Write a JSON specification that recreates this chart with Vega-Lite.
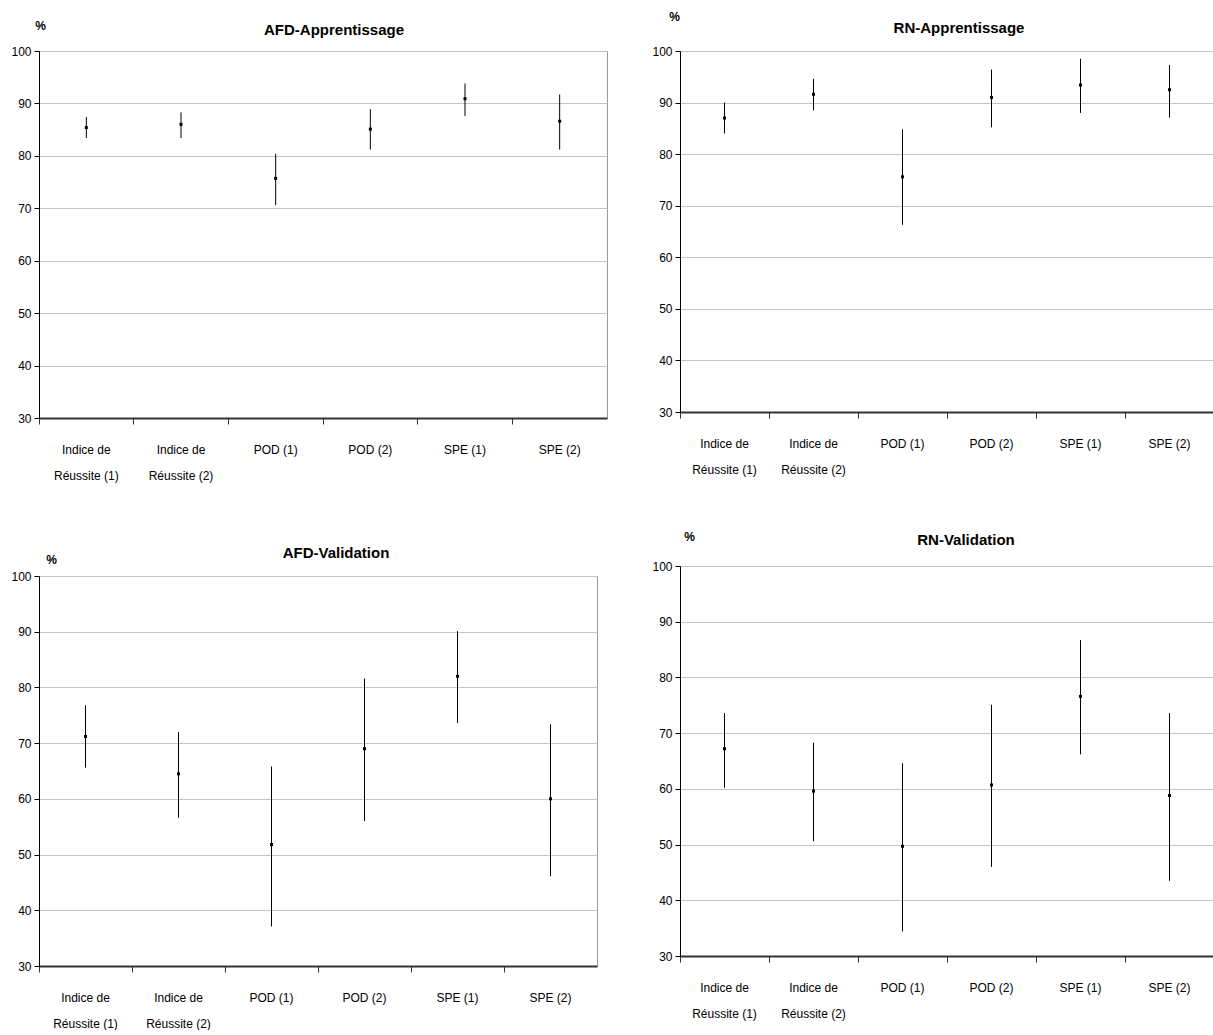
{
  "$schema": "https://vega.github.io/schema/vega-lite/v6.json",
  "padding": {"left": 10, "top": 9, "right": 0, "bottom": 0},
  "background": "white",
  "data": {"values": [
    {"panel": "AFD-Apprentissage", "cat": "Indice de Réussite (1)", "lo": 83.4, "mid": 85.4, "hi": 87.4},
    {"panel": "AFD-Apprentissage", "cat": "Indice de Réussite (2)", "lo": 83.4, "mid": 86.0, "hi": 88.3},
    {"panel": "AFD-Apprentissage", "cat": "POD (1)", "lo": 70.6, "mid": 75.7, "hi": 80.4},
    {"panel": "AFD-Apprentissage", "cat": "POD (2)", "lo": 81.2, "mid": 85.1, "hi": 88.9},
    {"panel": "AFD-Apprentissage", "cat": "SPE (1)", "lo": 87.6, "mid": 90.9, "hi": 93.8},
    {"panel": "AFD-Apprentissage", "cat": "SPE (2)", "lo": 81.2, "mid": 86.6, "hi": 91.7},
    {"panel": "RN-Apprentissage", "cat": "Indice de Réussite (1)", "lo": 84.0, "mid": 87.0, "hi": 90.0},
    {"panel": "RN-Apprentissage", "cat": "Indice de Réussite (2)", "lo": 88.5, "mid": 91.6, "hi": 94.6},
    {"panel": "RN-Apprentissage", "cat": "POD (1)", "lo": 66.3, "mid": 75.6, "hi": 84.8},
    {"panel": "RN-Apprentissage", "cat": "POD (2)", "lo": 85.2, "mid": 91.0, "hi": 96.4},
    {"panel": "RN-Apprentissage", "cat": "SPE (1)", "lo": 88.0, "mid": 93.4, "hi": 98.5},
    {"panel": "RN-Apprentissage", "cat": "SPE (2)", "lo": 87.1, "mid": 92.5, "hi": 97.3},
    {"panel": "AFD-Validation", "cat": "Indice de Réussite (1)", "lo": 65.6, "mid": 71.2, "hi": 76.8},
    {"panel": "AFD-Validation", "cat": "Indice de Réussite (2)", "lo": 56.6, "mid": 64.5, "hi": 72.0},
    {"panel": "AFD-Validation", "cat": "POD (1)", "lo": 37.1, "mid": 51.8, "hi": 65.8},
    {"panel": "AFD-Validation", "cat": "POD (2)", "lo": 56.0, "mid": 69.0, "hi": 81.6},
    {"panel": "AFD-Validation", "cat": "SPE (1)", "lo": 73.6, "mid": 82.0, "hi": 90.1},
    {"panel": "AFD-Validation", "cat": "SPE (2)", "lo": 46.1, "mid": 60.0, "hi": 73.4},
    {"panel": "RN-Validation", "cat": "Indice de Réussite (1)", "lo": 60.2, "mid": 67.2, "hi": 73.6},
    {"panel": "RN-Validation", "cat": "Indice de Réussite (2)", "lo": 50.6, "mid": 59.6, "hi": 68.3},
    {"panel": "RN-Validation", "cat": "POD (1)", "lo": 34.4, "mid": 49.7, "hi": 64.6},
    {"panel": "RN-Validation", "cat": "POD (2)", "lo": 46.0, "mid": 60.7, "hi": 75.1},
    {"panel": "RN-Validation", "cat": "SPE (1)", "lo": 66.2, "mid": 76.6, "hi": 86.7},
    {"panel": "RN-Validation", "cat": "SPE (2)", "lo": 43.5, "mid": 58.8, "hi": 73.6}
  ]},
  "spacing": 43,
  "hconcat": [
    {
      "spacing": 63,
      "vconcat": [
        {
          "width": 568, "height": 367,
          "title": {"text": "AFD-Apprentissage", "dx": 11, "dy": 38, "offset": 19},
          "transform": [{"filter": "datum.panel == 'AFD-Apprentissage'"}],
          "encoding": {"x": {"field": "cat", "type": "nominal", "sort": null, "title": null, "scale": {"type": "band", "paddingInner": 0, "paddingOuter": 0}}},
          "layer": [
            {"mark": {"type": "rule", "color": "black", "strokeWidth": 1},
             "encoding": {"y": {"field": "lo", "type": "quantitative", "title": "%", "scale": {"domain": [30, 100]}, "axis": {"titleX": 1, "titleY": -26, "values": [30, 40, 50, 60, 70, 80, 90, 100]}}, "y2": {"field": "hi"}}},
            {"mark": {"type": "point", "shape": "square", "filled": true, "size": 9, "color": "black", "opacity": 1},
             "encoding": {"y": {"field": "mid", "type": "quantitative", "title": "%", "axis": {"titleX": 1, "titleY": -26, "values": [30, 40, 50, 60, 70, 80, 90, 100]}}}}
          ]
        },
        {
          "width": 558, "height": 390,
          "title": {"text": "AFD-Validation", "dx": 18, "dy": 24, "offset": 16},
          "transform": [{"filter": "datum.panel == 'AFD-Validation'"}],
          "encoding": {"x": {"field": "cat", "type": "nominal", "sort": null, "title": null, "scale": {"type": "band", "paddingInner": 0, "paddingOuter": 0}}},
          "layer": [
            {"mark": {"type": "rule", "color": "black", "strokeWidth": 1},
             "encoding": {"y": {"field": "lo", "type": "quantitative", "title": "%", "scale": {"domain": [30, 100]}, "axis": {"titleX": 12, "titleY": -17, "values": [30, 40, 50, 60, 70, 80, 90, 100]}}, "y2": {"field": "hi"}}},
            {"mark": {"type": "point", "shape": "square", "filled": true, "size": 9, "color": "black", "opacity": 1},
             "encoding": {"y": {"field": "mid", "type": "quantitative", "title": "%", "axis": {"titleX": 12, "titleY": -17, "values": [30, 40, 50, 60, 70, 80, 90, 100]}}}}
          ]
        }
      ]
    },
    {
      "spacing": 53,
      "vconcat": [
        {
          "width": 534, "height": 361,
          "title": {"text": "RN-Apprentissage", "dx": 12, "dy": 42, "offset": 16},
          "transform": [{"filter": "datum.panel == 'RN-Apprentissage'"}],
          "encoding": {"x": {"field": "cat", "type": "nominal", "sort": null, "title": null, "scale": {"type": "band", "paddingInner": 0, "paddingOuter": 0}}},
          "layer": [
            {"mark": {"type": "rule", "color": "black", "strokeWidth": 1},
             "encoding": {"y": {"field": "lo", "type": "quantitative", "title": "%", "scale": {"domain": [30, 100]}, "axis": {"titleX": -6, "titleY": -35, "values": [30, 40, 50, 60, 70, 80, 90, 100]}}, "y2": {"field": "hi"}}},
            {"mark": {"type": "point", "shape": "square", "filled": true, "size": 9, "color": "black", "opacity": 1},
             "encoding": {"y": {"field": "mid", "type": "quantitative", "title": "%", "axis": {"titleX": -6, "titleY": -35, "values": [30, 40, 50, 60, 70, 80, 90, 100]}}}}
          ]
        },
        {
          "width": 534, "height": 390,
          "title": {"text": "RN-Validation", "dx": 19, "dy": 38, "offset": 20},
          "transform": [{"filter": "datum.panel == 'RN-Validation'"}],
          "encoding": {"x": {"field": "cat", "type": "nominal", "sort": null, "title": null, "scale": {"type": "band", "paddingInner": 0, "paddingOuter": 0}}},
          "layer": [
            {"mark": {"type": "rule", "color": "black", "strokeWidth": 1},
             "encoding": {"y": {"field": "lo", "type": "quantitative", "title": "%", "scale": {"domain": [30, 100]}, "axis": {"titleX": 9, "titleY": -30, "values": [30, 40, 50, 60, 70, 80, 90, 100]}}, "y2": {"field": "hi"}}},
            {"mark": {"type": "point", "shape": "square", "filled": true, "size": 9, "color": "black", "opacity": 1},
             "encoding": {"y": {"field": "mid", "type": "quantitative", "title": "%", "axis": {"titleX": 9, "titleY": -30, "values": [30, 40, 50, 60, 70, 80, 90, 100]}}}}
          ]
        }
      ]
    }
  ],
  "config": {
    "font": "Liberation Sans",
    "view": {"stroke": "#9a9a9a", "strokeWidth": 1},
    "title": {"fontSize": 15, "fontWeight": "bold", "color": "black", "anchor": "middle"},
    "axis": {"labelFontSize": 12, "labelColor": "black", "titleColor": "black"},
    "axisY": {"domainColor": "black", "domainWidth": 1, "tickColor": "black", "tickSize": 5, "tickWidth": 1, "gridColor": "#c4c4c4", "gridWidth": 1, "labelPadding": 3, "titleAngle": 0, "titleFontWeight": "bold", "titleFontSize": 12, "titleAlign": "center", "titleBaseline": "middle"},
    "axisX": {"domainColor": "#333333", "domainWidth": 2, "tickColor": "#333333", "tickSize": 6, "tickWidth": 1, "bandPosition": 0, "grid": false, "labelAngle": 0, "labelPadding": 20, "labelLineHeight": 26, "labelExpr": "indexof(datum.value, 'Réussite') > 0 ? ['Indice de', substring(datum.value, 10)] : datum.value"}
  }
}
